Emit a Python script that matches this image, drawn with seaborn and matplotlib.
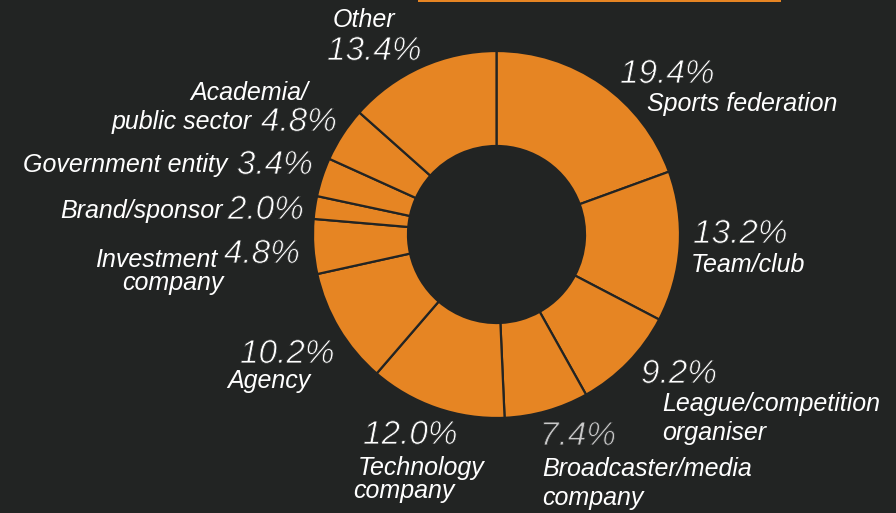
import matplotlib
matplotlib.use("Agg")
import matplotlib.pyplot as plt
import matplotlib.patheffects as pe
import seaborn as sns

# Respondent organisation types (share of respondents, %)
categories = [
    "Sports federation", "Team/club", "League/competition organiser",
    "Broadcaster/media company", "Technology company", "Agency",
    "Investment company", "Brand/sponsor", "Government entity",
    "Academia/public sector", "Other",
]
shares = [19.4, 13.2, 9.2, 7.4, 12.0, 10.2, 4.8, 2.0, 3.4, 4.8, 13.4]

# How each category name is broken over lines
label_lines = [
    ["Sports federation"], ["Team/club"], ["League/competition", "organiser"],
    ["Broadcaster/media", "company"], ["Technology", "company"], ["Agency"],
    ["Investment", "company"], ["Brand/sponsor"], ["Government entity"],
    ["Academia/", "public sector"], ["Other"],
]

BG = "#222423"
ORANGE = "#E68523"
W, H = 896, 513

sns.set_theme(style="dark", rc={"figure.facecolor": BG, "axes.facecolor": BG})
plt.rcParams["font.family"] = ["Liberation Sans", "DejaVu Sans"]

fig = plt.figure(figsize=(W / 100, H / 100), dpi=100)
ax = fig.add_axes([0, 0, 1, 1])
ax.set_facecolor(BG)

palette = sns.color_palette([ORANGE], n_colors=len(shares))

# Work in pixel units, y measured from the top edge
def py(y):
    return H - y

cx, cy, r_out, ring = 496.5, 234.5, 183.5, 95
ax.pie(
    shares, colors=palette, radius=r_out, center=(cx, py(cy)),
    startangle=90, counterclock=False,
    wedgeprops=dict(width=ring, edgecolor=BG, linewidth=1.6),
)

# Accent bar along the top edge
ax.add_patch(plt.Rectangle((418, py(2)), 363, 2, color=ORANGE, lw=0))

# Label anchors: (x, baseline, alignment) for the percentage and for each name line
pct_pos = [
    (620, 83, "left"), (693, 243, "left"), (641, 383, "left"),
    (540, 445, "left"), (363, 444, "left"), (240, 363, "left"),
    (300, 263, "right"), (304, 219, "right"), (313, 174, "right"),
    (337, 131, "right"), (327, 60, "left"),
]
name_pos = [
    [(647, 111, "left")], [(691, 272, "left")],
    [(662, 411, "left"), (662, 440, "left")],
    [(542, 476, "left"), (542, 505, "left")],
    [(358, 475, "left"), (353, 498, "left")],
    [(227, 388, "left")],
    [(217, 267, "right"), (224, 290, "right")],
    [(223, 218, "right")], [(227, 172, "right")],
    [(308, 100, "right"), (252, 129, "right")],
    [(333, 27, "left")],
]

# Percentages are drawn a touch lighter: the glyph edges are trimmed
# with a thin stroke in the background colour
thin = [pe.Normal(), pe.Stroke(linewidth=0.6, foreground=BG)]
pct_font = dict(family=["Liberation Sans", "DejaVu Sans"], style="italic",
                fontsize=24, path_effects=thin)
name_font = dict(family=["Liberation Sans", "DejaVu Sans"], style="italic",
                 fontsize=18)

for i, (val, lines) in enumerate(zip(shares, label_lines)):
    x, y, ha = pct_pos[i]
    col = "#C9C9C9" if categories[i].startswith("Broadcaster") else "white"
    ax.text(x, py(y), f"{val:.1f}%", ha=ha, va="baseline", color=col,
            **pct_font)
    for line, (lx, ly, lha) in zip(lines, name_pos[i]):
        ax.text(lx, py(ly), line, ha=lha, va="baseline", color="white",
                **name_font)

ax.set_xlim(0, W)
ax.set_ylim(0, H)
ax.set_aspect("equal")
ax.axis("off")

fig.savefig("out.png", dpi=100, facecolor=BG)
